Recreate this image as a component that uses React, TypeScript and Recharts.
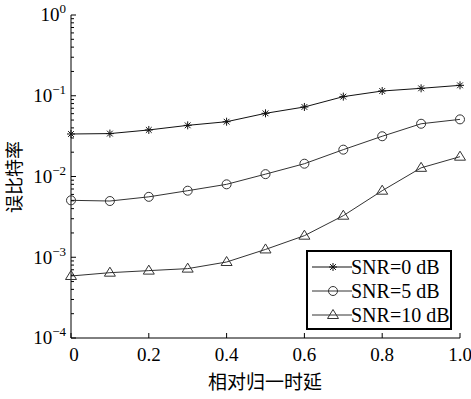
import { LineChart, Line, XAxis, YAxis } from "recharts";

const delays = [0, 0.1, 0.2, 0.3, 0.4, 0.5, 0.6, 0.7, 0.8, 0.9, 1.0];
const snr0 = [0.0336, 0.034, 0.0377, 0.043, 0.0477, 0.0606, 0.0726, 0.0975, 0.1145, 0.1236, 0.1346];
const snr5 = [0.00507, 0.00497, 0.0056, 0.00667, 0.008, 0.0107, 0.0144, 0.0215, 0.0315, 0.045, 0.051];
const snr10 = [0.000586, 0.000644, 0.000683, 0.000723, 0.000873, 0.00125, 0.00185, 0.00327, 0.00667, 0.0128, 0.0176];

const xTicks = [0, 0.2, 0.4, 0.6, 0.8, 1];
const xTickLabels = ["0", "0.2", "0.4", "0.6", "0.8", "1.0"];
const yMajor = [1e-4, 1e-3, 1e-2, 1e-1, 1];
const yExp = ["\u22124", "\u22123", "\u22122", "\u22121", "0"];
const seriesNames = ["SNR=0 dB", "SNR=5 dB", "SNR=10 dB"];

const data = delays.map((d, i) => ({ x: d, s0: snr0[i], s5: snr5[i], s10: snr10[i] }));

// minor ticks 2..9 inside every decade
const yTicks: number[] = [];
for (let e = -4; e < 0; e++) {
  for (let k = 1; k < 10; k++) yTicks.push(k * Math.pow(10, e));
}
yTicks.push(1);

const serif = "'Liberation Serif', 'DejaVu Serif', serif";
const cjk = "'Noto Sans CJK SC', sans-serif";

const majorIndex = (v: number) => yMajor.findIndex((m) => Math.abs(Math.log10(m) - Math.log10(v)) < 1e-6);

function LeftTick({ x, y, payload }: any) {
  const i = majorIndex(payload.value);
  return (
    <g>
      <line x1={x} x2={x + (i >= 0 ? 5 : 3)} y1={y} y2={y} stroke="#000" strokeWidth={1} />
      {i >= 0 && (
        <text x={x - 5} y={y} dy="0.33em" textAnchor="end" fontFamily={serif} fontSize={19} fill="#000">
          10<tspan dy={-8} fontSize={13}>{yExp[i]}</tspan>
        </text>
      )}
    </g>
  );
}

function RightTick({ x, y, payload }: any) {
  const i = majorIndex(payload.value);
  return <line x1={x} x2={x - (i >= 0 ? 5 : 3)} y1={y} y2={y} stroke="#000" strokeWidth={1} />;
}

function BottomTick({ x, y, payload, index }: any) {
  return (
    <g>
      <line x1={x} x2={x} y1={y} y2={y - 5} stroke="#000" strokeWidth={1} />
      <text x={index === 0 ? x + 3 : x} y={y + 23} textAnchor="middle" fontFamily={serif} fontSize={19} fill="#000">
        {xTickLabels[index] ?? payload.value}
      </text>
    </g>
  );
}

function TopTick({ x, y }: any) {
  return <line x1={x} x2={x} y1={y} y2={y + 5} stroke="#000" strokeWidth={1} />;
}

function Asterisk({ cx, cy, stroke }: any) {
  const r = 4;
  const d = r * 0.72;
  return (
    <g stroke={stroke} strokeWidth={1}>
      <line x1={cx - r} x2={cx + r} y1={cy} y2={cy} />
      <line x1={cx} x2={cx} y1={cy - r} y2={cy + r} />
      <line x1={cx - d} x2={cx + d} y1={cy - d} y2={cy + d} />
      <line x1={cx - d} x2={cx + d} y1={cy + d} y2={cy - d} />
    </g>
  );
}

function Circle({ cx, cy, stroke }: any) {
  return <circle cx={cx} cy={cy} r={4.5} fill="none" stroke={stroke} strokeWidth={1} />;
}

function Triangle({ cx, cy, stroke }: any) {
  const w = 5.5;
  return (
    <polygon
      points={`${cx},${cy - 5.5} ${cx - w},${cy + 3.5} ${cx + w},${cy + 3.5}`}
      fill="none"
      stroke={stroke}
      strokeWidth={1}
    />
  );
}

const markers = [Asterisk, Circle, Triangle];
const colors = ["#111", "#333", "#333"];

function LegendBox() {
  return (
    <div
      style={{
        position: "absolute",
        left: 306,
        top: 250,
        width: 142,
        height: 76,
        border: "2px solid #000",
        background: "#fff",
      }}
    >
      {seriesNames.map((name, i) => {
        const M = markers[i];
        return (
          <div key={name} style={{ display: "flex", alignItems: "center", height: 24, marginTop: i === 0 ? 3 : 0 }}>
            <svg width={44} height={20} style={{ flex: "none" }}>
              <line x1={4} x2={44} y1={10} y2={10} stroke={colors[i]} strokeWidth={1} />
              <M cx={25} cy={10} stroke={colors[i]} />
            </svg>
            <span style={{ fontFamily: serif, fontSize: 20, color: "#000", lineHeight: "22px", marginLeft: -1, whiteSpace: "nowrap" }}>
              {name}
            </span>
          </div>
        );
      })}
    </div>
  );
}

export default function App() {
  const keys = ["s0", "s5", "s10"];
  return (
    <div style={{ position: "absolute", left: 0, top: 0, width: 471, height: 399, background: "#fff" }}>
      <LineChart width={471} height={399} data={data} margin={{ top: 15, right: 11, left: 0, bottom: 0 }}>
        <XAxis
          xAxisId="b"
          dataKey="x"
          type="number"
          domain={[0, 1]}
          ticks={xTicks}
          interval={0}
          height={61}
          tickSize={0}
          tickMargin={0}
          tickLine={false}
          axisLine={{ stroke: "#000" }}
          tick={<BottomTick />}
        />
        <XAxis
          xAxisId="t"
          orientation="top"
          dataKey="x"
          type="number"
          domain={[0, 1]}
          ticks={xTicks}
          interval={0}
          height={0}
          tickSize={0}
          tickMargin={0}
          tickLine={false}
          axisLine={{ stroke: "#000" }}
          tick={<TopTick />}
        />
        <YAxis
          yAxisId="l"
          scale="log"
          type="number"
          domain={[1e-4, 1]}
          allowDataOverflow
          ticks={yTicks}
          interval={0}
          width={71}
          tickSize={0}
          tickMargin={0}
          tickLine={false}
          axisLine={{ stroke: "#000" }}
          tick={<LeftTick />}
        />
        <YAxis
          yAxisId="r"
          orientation="right"
          scale="log"
          type="number"
          domain={[1e-4, 1]}
          allowDataOverflow
          ticks={yTicks}
          interval={0}
          width={0}
          tickSize={0}
          tickMargin={0}
          tickLine={false}
          axisLine={{ stroke: "#000" }}
          tick={<RightTick />}
        />
        {keys.map((k, i) => {
          const M = markers[i];
          return (
            <Line
              key={k}
              xAxisId="b"
              yAxisId="l"
              type="linear"
              dataKey={k}
              name={seriesNames[i]}
              stroke={colors[i]}
              strokeWidth={1}
              isAnimationActive={false}
              dot={(p: any) => <M key={`${k}-${p.index}`} cx={p.cx} cy={p.cy} stroke={colors[i]} />}
              activeDot={false}
            />
          );
        })}
        <text x={265} y={389} textAnchor="middle" fontFamily={cjk} fontSize={19} fill="#000">
          相对归一时延
        </text>
        <text
          x={16}
          y={177}
          textAnchor="middle"
          dominantBaseline="middle"
          transform="rotate(-90 16 177)"
          fontFamily={cjk}
          fontSize={18}
          fill="#000"
        >
          误比特率
        </text>
      </LineChart>
      <LegendBox />
    </div>
  );
}
